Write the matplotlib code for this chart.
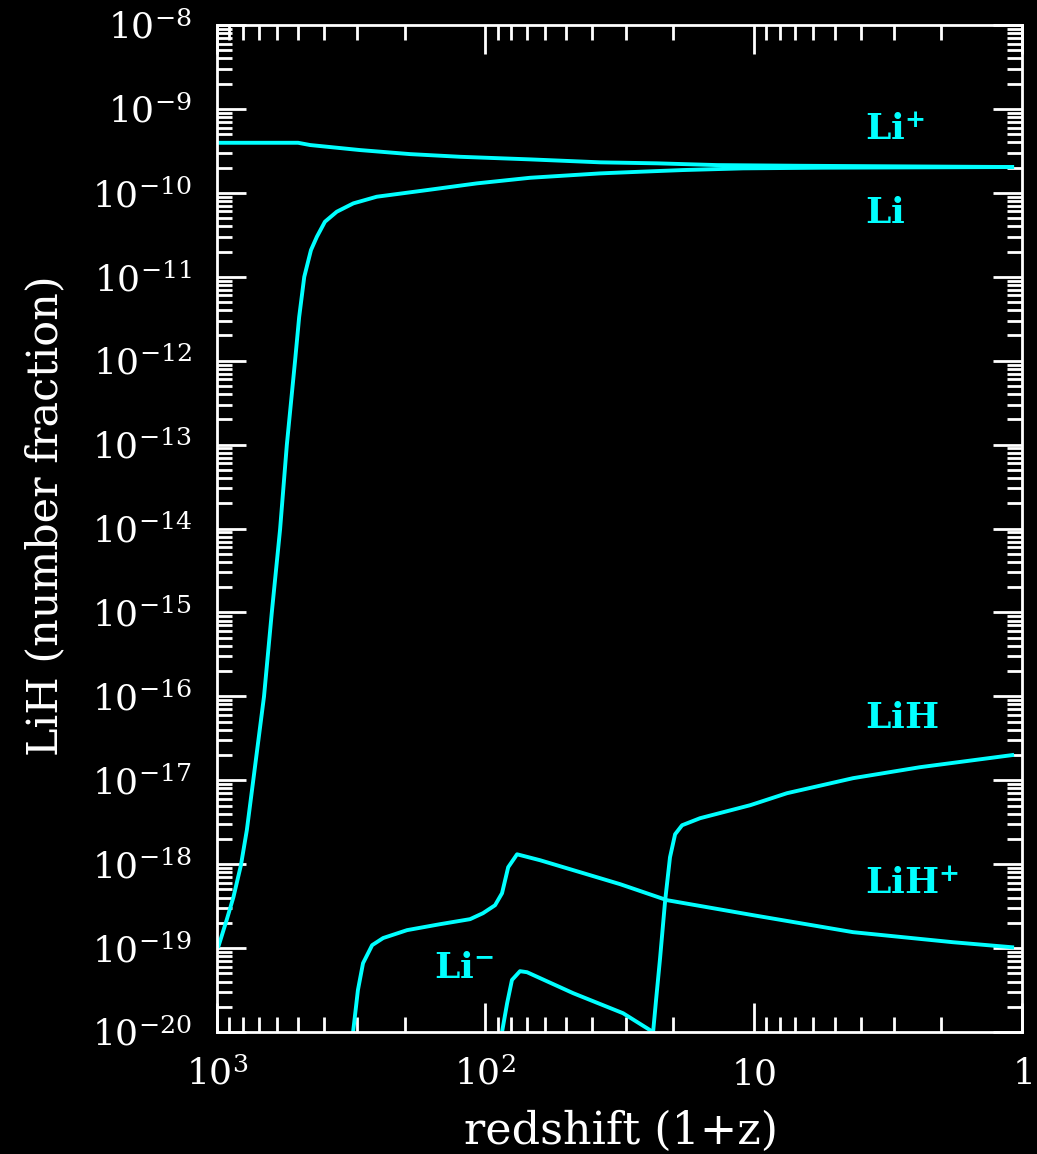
import matplotlib
matplotlib.use("Agg")
import matplotlib.pyplot as plt
import numpy as np

# -----------------------------
# Data (log10 values)
# -----------------------------
# x = log10(1+z), y = log10(number fraction)
li_plus_x = [3.0, 2.698, 2.653, 2.467, 2.281, 2.094, 1.833, 1.573, 1.360, 1.136, 0.827, 0.037]
li_plus_y = [-9.403, -9.403, -9.430, -9.490, -9.538, -9.570, -9.601, -9.636, -9.648, -9.669, -9.677, -9.692]

li_x = [3.0, 2.995, 2.964, 2.939, 2.911, 2.889, 2.865, 2.825, 2.796, 2.765, 2.740,
        2.709, 2.694, 2.675, 2.650, 2.628, 2.598, 2.554, 2.492, 2.405, 2.218, 2.032,
        1.833, 1.573, 1.423, 1.263, 1.040, 0.741, 0.037]
li_y = [-18.99, -18.982, -18.663, -18.393, -18.012, -17.595, -16.999, -16.002, -15.002,
        -14.007, -13.006, -11.993, -11.48, -11.001, -10.682, -10.523, -10.344, -10.225,
        -10.125, -10.046, -9.967, -9.887, -9.82, -9.768, -9.748, -9.728, -9.708, -9.70, -9.692]

lihp_x = [2.493, 2.475, 2.456, 2.422, 2.381, 2.292, 2.169, 2.057, 2.009, 1.964, 1.938,
          1.915, 1.882, 1.796, 1.498, 1.323, 1.002, 0.630, 0.257, 0.037]
lihp_y = [-20.0, -19.50, -19.18, -18.965, -18.88, -18.786, -18.715, -18.655, -18.584,
          -18.489, -18.346, -18.036, -17.882, -17.953, -18.238, -18.429, -18.608, -18.81,
          -18.93, -18.99]

li_minus_x = [1.938, 1.919, 1.901, 1.871, 1.845, 1.673, 1.487, 1.375]
li_minus_y = [-20.0, -19.657, -19.38, -19.275, -19.287, -19.537, -19.776, -20.0]

lih_x = [1.375, 1.364, 1.349, 1.330, 1.312, 1.293, 1.267, 1.200, 1.013, 0.876, 0.630, 0.380, 0.037]
lih_y = [-20.0, -19.62, -19.12, -18.43, -17.917, -17.643, -17.536, -17.452, -17.297,
         -17.154, -16.975, -16.844, -16.70]

xtick_vals = [1000, 100, 10, 1]
xtick_labels = [r"$10^{3}$", r"$10^{2}$", r"$10$", r"$1$"]
ytick_exps = list(range(-20, -7))

# -----------------------------
# Style
# -----------------------------
plt.rcParams.update({
    "font.family": "DejaVu Serif",
    "mathtext.fontset": "dejavuserif",
    "text.color": "white",
    "axes.edgecolor": "white",
    "axes.labelcolor": "white",
    "xtick.color": "white",
    "ytick.color": "white",
})

fig = plt.figure(figsize=(10.37, 11.54), dpi=100, facecolor="black")
ax = fig.add_axes([0.2093, 0.1057, 0.7763, 0.8726], facecolor="black")

cyan = "#00FFFF"
for xs, ys in [(li_plus_x, li_plus_y), (li_x, li_y), (lihp_x, lihp_y),
               (li_minus_x, li_minus_y), (lih_x, lih_y)]:
    ax.plot(10 ** np.array(xs), 10 ** np.array(ys), color=cyan, lw=2.8,
            solid_joinstyle="round")

ax.set_xscale("log")
ax.set_yscale("log")
ax.set_xlim(1000, 1)
ax.set_ylim(1e-20, 1e-8)

ax.set_xticks(xtick_vals, labels=xtick_labels)
ax.set_yticks([10.0 ** e for e in ytick_exps],
              labels=[r"$10^{%d}$" % e for e in ytick_exps])
ax.xaxis.set_minor_locator(matplotlib.ticker.LogLocator(base=10, subs=np.arange(2, 10), numticks=50))
ax.yaxis.set_minor_locator(matplotlib.ticker.LogLocator(base=10, subs=np.arange(2, 10), numticks=50))
ax.xaxis.set_minor_formatter(matplotlib.ticker.NullFormatter())
ax.yaxis.set_minor_formatter(matplotlib.ticker.NullFormatter())

ax.tick_params(which="both", direction="in", top=True, right=True, width=2)
ax.tick_params(which="major", length=21, pad=18, labelsize=26)
ax.tick_params(which="minor", length=11)
for s in ax.spines.values():
    s.set_linewidth(2)

ax.set_xlabel("redshift (1+z)", fontsize=32)
ax.set_ylabel("LiH (number fraction)", fontsize=31)
ax.xaxis.set_label_coords(0.502, -0.077)
ax.yaxis.set_label_coords(-0.187, 0.513)

lab = dict(transform=ax.transAxes, color=cyan, fontsize=26, ha="left", va="center")
ax.text(0.805, 0.896, r"$\mathbf{Li}^{\mathbf{+}}$", **lab)
ax.text(0.805, 0.813, r"$\mathbf{Li}$", **lab)
ax.text(0.805, 0.312, r"$\mathbf{LiH}$", **lab)
ax.text(0.805, 0.147, r"$\mathbf{LiH}^{\mathbf{+}}$", **lab)
ax.text(0.27, 0.064, r"$\mathbf{Li}^{\mathbf{-}}$", **lab)

fig.savefig("out.png", dpi=100, facecolor="black")
